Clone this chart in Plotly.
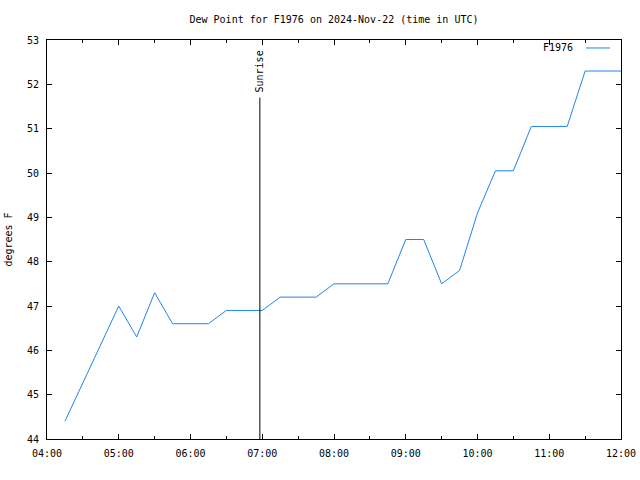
import plotly.graph_objects as go

times = ["2024-11-22 04:15", "2024-11-22 05:00", "2024-11-22 05:15", "2024-11-22 05:30",
         "2024-11-22 05:45", "2024-11-22 06:00", "2024-11-22 06:15", "2024-11-22 06:30",
         "2024-11-22 06:45", "2024-11-22 07:00", "2024-11-22 07:15", "2024-11-22 07:30",
         "2024-11-22 07:45", "2024-11-22 08:00", "2024-11-22 08:15", "2024-11-22 08:30",
         "2024-11-22 08:45", "2024-11-22 09:00", "2024-11-22 09:15", "2024-11-22 09:30",
         "2024-11-22 09:45", "2024-11-22 10:00", "2024-11-22 10:15", "2024-11-22 10:30",
         "2024-11-22 10:45", "2024-11-22 11:00", "2024-11-22 11:15", "2024-11-22 11:30",
         "2024-11-22 11:45", "2024-11-22 12:00"]
dewpoint = [44.4, 47.0, 46.3, 47.3,
            46.6, 46.6, 46.6, 46.9,
            46.9, 46.9, 47.2, 47.2,
            47.2, 47.5, 47.5, 47.5,
            47.5, 48.5, 48.5, 47.5,
            47.8, 49.1, 50.05, 50.05,
            51.05, 51.05, 51.05, 52.3,
            52.3, 52.3]
series_name = "F1976"
sunrise_time = "2024-11-22 06:58"
sunrise_top = 51.7
x_range = ["2024-11-22 04:00", "2024-11-22 12:00"]
y_range = [44, 53]
x_tickvals = ["2024-11-22 %02d:00" % h for h in range(4, 13)]
x_ticktext = ["%02d:00" % h for h in range(4, 13)]
y_tickvals = list(range(44, 54))

LINE_COLOR = "#1f84f0"
FONT = "DejaVu Sans Mono"

fig = go.Figure()
fig.add_trace(go.Scatter(x=times, y=dewpoint, mode="lines", name=series_name,
                         line=dict(color=LINE_COLOR, width=1), showlegend=False))

# Sunrise marker
fig.add_shape(type="line", x0=sunrise_time, x1=sunrise_time, y0=y_range[0], y1=sunrise_top,
              xref="x", yref="y", line=dict(color="black", width=1))
fig.add_annotation(x=sunrise_time, y=sunrise_top, xref="x", yref="y", text="Sunrise",
                   textangle=-90, showarrow=False, yanchor="bottom", xanchor="center",
                   yshift=3, font=dict(family=FONT, size=10, color="black"))

# gnuplot-style legend: text then line sample
fig.add_annotation(x=0.92, y=0.98, xref="paper", yref="paper", text=series_name,
                   showarrow=False, xanchor="right", yanchor="middle",
                   font=dict(family=FONT, size=10, color="black"))
fig.add_shape(type="line", x0=0.939, x1=0.981, y0=0.98, y1=0.98, xref="paper", yref="paper",
              line=dict(color=LINE_COLOR, width=1))

fig.update_layout(
    width=640, height=480,
    margin=dict(l=47, r=19, t=40, b=41),
    paper_bgcolor="white", plot_bgcolor="white",
    font=dict(family=FONT, size=10, color="black"),
    title=dict(text="Dew Point for F1976 on 2024-Nov-22 (time in UTC)", x=0.5, xref="paper",
               xanchor="center", y=1 - 19 / 480, yanchor="middle", font=dict(family=FONT, size=10)),
    xaxis=dict(range=x_range, tickmode="array", tickvals=x_tickvals, ticktext=x_ticktext,
               showgrid=False, zeroline=False, showline=True, linecolor="black", linewidth=1,
               mirror="ticks", ticks="inside", ticklen=5, tickcolor="black", automargin=False,
               ticklabelstandoff=5,
               minor=dict(dtick=30 * 60 * 1000, ticks="inside", ticklen=3, tickcolor="black"),
               tickfont=dict(family=FONT, size=10)),
    yaxis=dict(range=y_range, tickmode="array", tickvals=y_tickvals,
               showgrid=False, zeroline=False, showline=True, linecolor="black", linewidth=1,
               mirror="ticks", ticks="inside", ticklen=5, tickcolor="black", automargin=False,
               ticklabelstandoff=5,
               title=dict(text="degrees F", font=dict(family=FONT, size=10), standoff=12),
               tickfont=dict(family=FONT, size=10)),
)

fig.write_html("out.html")
